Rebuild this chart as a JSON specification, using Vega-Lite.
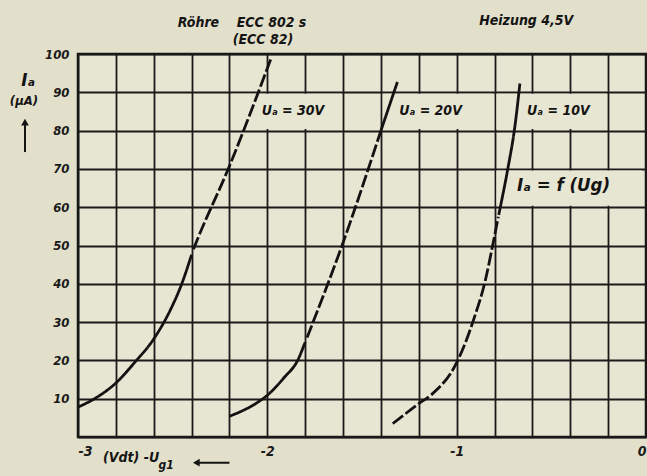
{
  "$schema": "https://vega.github.io/schema/vega-lite/v6.json",
  "width": 568,
  "height": 383,
  "autosize": "none",
  "padding": {"left": 78, "top": 54, "right": 1, "bottom": 39},
  "background": "#e2e0ca",
  "config": {
    "font": "'DejaVu Sans Condensed', 'Liberation Sans Narrow', 'DejaVu Sans', sans-serif",
    "view": {"stroke": "#141414", "strokeWidth": 2.5, "fill": "#e7e6d2"},
    "axis": {
      "grid": true, "gridColor": "#1a1a1a", "gridWidth": 1.8, "gridOpacity": 1,
      "domain": false, "ticks": false, "labelOverlap": false,
      "labelFont": "'DejaVu Sans Condensed', 'Liberation Sans Narrow', 'DejaVu Sans', sans-serif",
      "labelFontSize": 13, "labelFontWeight": "bold", "labelFontStyle": "italic", "labelColor": "#1a1a1a",
      "title": null
    }
  },
  "encoding": {
    "x": {"field": "x", "type": "quantitative", "scale": {"domain": [-3, 0], "nice": false, "zero": false},
      "axis": {"values": [-3, -2.8, -2.6, -2.4, -2.2, -2, -1.8, -1.6, -1.4, -1.2, -1, -0.8, -0.6, -0.4, -0.2, 0],
        "labelExpr": "abs(datum.value - round(datum.value)) < 0.001 ? '' + round(datum.value) : ''",
        "labelPadding": 7, "labelDx": -5, "labelFontSize": 14}},
    "y": {"field": "y", "type": "quantitative", "scale": {"domain": [0, 100], "nice": false},
      "axis": {"values": [0, 10, 20, 30, 40, 50, 60, 70, 80, 90, 100],
        "labelExpr": "datum.value == 0 ? '' : datum.label", "labelPadding": 9}}
  },
  "layer": [
    {
      "data": {"values": [
        {"x": -2.19, "x2": -1.61, "y": 80.4, "y2": 89.6},
        {"x": -1.39, "x2": -0.81, "y": 80.4, "y2": 89.6},
        {"x": -0.79, "x2": -0.21, "y": 80.4, "y2": 89.6},
        {"x": -0.79, "x2": -0.02, "y": 60.4, "y2": 69.6}
      ]},
      "mark": {"type": "rect", "color": "#e7e6d2"},
      "encoding": {
        "x2": {"field": "x2"},
        "y2": {"field": "y2"}
      }
    },
    {
      "data": {"values": [
        {"x": -3.0, "y": 7.8, "seg": "30a", "style": "solid"},
        {"x": -2.92, "y": 9.8, "seg": "30a", "style": "solid"},
        {"x": -2.8, "y": 14.1, "seg": "30a", "style": "solid"},
        {"x": -2.7, "y": 19.5, "seg": "30a", "style": "solid"},
        {"x": -2.6, "y": 25.6, "seg": "30a", "style": "solid"},
        {"x": -2.51, "y": 33.4, "seg": "30a", "style": "solid"},
        {"x": -2.452, "y": 40, "seg": "30a", "style": "solid"},
        {"x": -2.4, "y": 47.6, "seg": "30a", "style": "solid"},
        {"x": -2.39, "y": 49.0, "seg": "30b", "style": "dashed"},
        {"x": -2.37, "y": 51.5, "seg": "30b", "style": "dashed"},
        {"x": -2.209, "y": 69.7, "seg": "30b", "style": "dashed"},
        {"x": -1.977, "y": 99.3, "seg": "30b", "style": "dashed"},
        {"x": -2.2, "y": 5.4, "seg": "20a", "style": "solid"},
        {"x": -2.05, "y": 9.1, "seg": "20a", "style": "solid"},
        {"x": -2.0, "y": 10.9, "seg": "20a", "style": "solid"},
        {"x": -1.91, "y": 15.6, "seg": "20a", "style": "solid"},
        {"x": -1.84, "y": 20.0, "seg": "20a", "style": "solid"},
        {"x": -1.8, "y": 24.8, "seg": "20a", "style": "solid"},
        {"x": -1.79, "y": 26.0, "seg": "20b", "style": "dashed"},
        {"x": -1.604, "y": 50.2, "seg": "20b", "style": "dashed"},
        {"x": -1.4, "y": 80.0, "seg": "20b", "style": "dashed"},
        {"x": -1.4, "y": 80.0, "seg": "20c", "style": "solid"},
        {"x": -1.313, "y": 92.7, "seg": "20c", "style": "solid"},
        {"x": -1.3375, "y": 3.5, "seg": "10a", "style": "dashed"},
        {"x": -1.2, "y": 8.7, "seg": "10a", "style": "dashed"},
        {"x": -1.13, "y": 11.2, "seg": "10a", "style": "dashed"},
        {"x": -1.0, "y": 19.4, "seg": "10a", "style": "dashed"},
        {"x": -0.906, "y": 31.3, "seg": "10a", "style": "dashed"},
        {"x": -0.85, "y": 40.6, "seg": "10a", "style": "dashed"},
        {"x": -0.81, "y": 50.0, "seg": "10a", "style": "dashed"},
        {"x": -0.78, "y": 57.5, "seg": "10a", "style": "dashed"},
        {"x": -0.778, "y": 58.0, "seg": "10b", "style": "solid"},
        {"x": -0.73, "y": 70.0, "seg": "10b", "style": "solid"},
        {"x": -0.693, "y": 80.9, "seg": "10b", "style": "solid"},
        {"x": -0.666, "y": 92.3, "seg": "10b", "style": "solid"}
      ]},
      "mark": {"type": "line", "color": "#121212", "strokeWidth": 2.8, "strokeCap": "butt", "interpolate": "monotone"},
      "encoding": {
        "detail": {"field": "seg"},
        "strokeDash": {"field": "style", "type": "nominal", "legend": null,
          "scale": {"domain": ["solid", "dashed"], "range": [[1, 0], [13, 3]]}}
      }
    },
    {
      "data": {"values": [
        {"x": -2.473, "y": 108.1, "t": "Röhre"},
        {"x": -2.162, "y": 108.1, "t": "ECC 802 s"},
        {"x": -2.183, "y": 103.7, "t": "(ECC 82)"},
        {"x": -0.881, "y": 108.6, "t": "Heizung 4,5V"},
        {"x": -2.03, "y": 85.2, "t": "Uₐ = 30V"},
        {"x": -1.303, "y": 85.2, "t": "Uₐ = 20V"},
        {"x": -0.628, "y": 85.2, "t": "Uₐ = 10V"},
        {"x": -2.868, "y": -5.6, "t": "(Vdt) -U"}
      ]},
      "mark": {"type": "text", "align": "left", "baseline": "middle", "fontSize": 14, "fontWeight": "bold", "fontStyle": "italic", "color": "#141414", "clip": false},
      "encoding": {
        "text": {"field": "t"}
      }
    },
    {
      "data": {"values": [
        {"x": -2.575, "y": -7.2, "t": "g1"}
      ]},
      "mark": {"type": "text", "align": "left", "baseline": "middle", "fontSize": 12, "fontWeight": "bold", "fontStyle": "italic", "color": "#141414", "clip": false},
      "encoding": {
        "text": {"field": "t"}
      }
    },
    {
      "data": {"values": [
        {"x": -0.681, "y": 65.8, "t": "Iₐ = f (Ug)"},
        {"x": -3.3, "y": 93.2, "t": "Iₐ"}
      ]},
      "mark": {"type": "text", "align": "left", "baseline": "middle", "fontSize": 18.5, "fontWeight": "bold", "fontStyle": "italic", "color": "#141414", "clip": false},
      "encoding": {
        "text": {"field": "t"}
      }
    },
    {
      "data": {"values": [
        {"x": -3.285, "y": 87.7, "t": "(µA)"}
      ]},
      "mark": {"type": "text", "align": "center", "baseline": "middle", "fontSize": 13, "fontWeight": "bold", "fontStyle": "italic", "color": "#141414", "clip": false},
      "encoding": {
        "text": {"field": "t"}
      }
    },
    {
      "data": {"values": [
        {"x": -3.28, "y": 74.4, "x2": -3.28, "y2": 81.5},
        {"x": -2.37, "y": -6.7, "x2": -2.2, "y2": -6.7}
      ]},
      "mark": {"type": "rule", "color": "#141414", "strokeWidth": 2, "clip": false},
      "encoding": {
        "x2": {"field": "x2"},
        "y2": {"field": "y2"}
      }
    },
    {
      "data": {"values": [
        {"x": -3.28, "y": 82.2, "dir": "up"},
        {"x": -2.375, "y": -6.7, "dir": "left"}
      ]},
      "mark": {"type": "point", "filled": true, "color": "#141414", "opacity": 1, "size": 60, "clip": false},
      "encoding": {
        "shape": {"field": "dir", "type": "nominal", "legend": null,
          "scale": {"domain": ["up", "left"], "range": ["triangle-up", "triangle-left"]}}
      }
    }
  ]
}
